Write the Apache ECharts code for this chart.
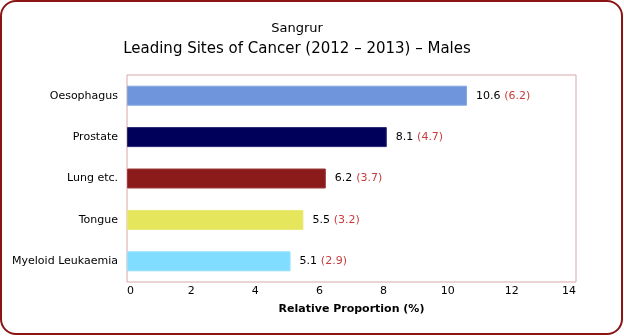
<!DOCTYPE html>
<html>
<head>
<meta charset="utf-8">
<script src="https://cdn.jsdelivr.net/npm/echarts@6/dist/echarts.min.js"></script>
<style>html,body{margin:0;padding:0;background:#fff;}#c{width:624px;height:336px;}</style>
</head>
<body>
<div id="c"></div>
<script>
const categories = ["Oesophagus", "Prostate", "Lung etc.", "Tongue", "Myeloid Leukaemia"];
const proportions = [10.6, 8.1, 6.2, 5.5, 5.1];
const rates = [6.2, 4.7, 3.7, 3.2, 2.9];
const barColors = ["#6f96dc", "#00005a", "#8b1a1a", "#e6e65c", "#80ddff"];
const xTicks = [0, 2, 4, 6, 8, 10, 12, 14];

const chart = echarts.init(document.getElementById('c'), null, {renderer: 'canvas'});
const FONT = 'DejaVu Sans';
chart.setOption({
  animation: false,
  backgroundColor: '#fff',
  textStyle: {fontFamily: FONT},
  graphic: [{
    type: 'rect', shape: {x: 1, y: 1, width: 621, height: 333, r: 15},
    style: {fill: 'none', stroke: '#8b1414', lineWidth: 2}, silent: true
  }, {
    type: 'text', x: 297, y: 29,
    style: {text: 'Sangrur', font: '13px "DejaVu Sans"', fill: '#000', align: 'center', verticalAlign: 'middle'}
  }, {
    type: 'text', x: 297, y: 49,
    style: {text: 'Leading Sites of Cancer (2012 – 2013) – Males', font: '15px "DejaVu Sans"', fill: '#000', align: 'center', verticalAlign: 'middle'}
  }],
  grid: {left: 127, right: 48, top: 75, bottom: 54, show: true, borderColor: '#d8a8a8', borderWidth: 1},
  xAxis: {
    type: 'value', min: xTicks[0], max: xTicks[xTicks.length - 1], interval: 2,
    name: 'Relative Proportion (%)', nameLocation: 'middle', nameGap: 22,
    nameTextStyle: {fontFamily: FONT, fontSize: 11, fontWeight: 'bold', color: '#000'},
    axisLine: {show: false}, axisTick: {show: false}, splitLine: {show: false},
    axisLabel: {fontFamily: FONT, fontSize: 11, color: '#000', margin: 4, alignMinLabel: 'left', alignMaxLabel: 'right'}
  },
  yAxis: {
    type: 'category', data: categories, inverse: true,
    axisLine: {show: false}, axisTick: {show: false},
    axisLabel: {fontFamily: FONT, fontSize: 11, color: '#000', margin: 9}
  },
  series: [{
    type: 'bar', barWidth: 20,
    data: proportions.map((v, i) => ({
      value: v,
      itemStyle: {color: barColors[i], borderColor: echarts.color.lift(barColors[i], 0.15), borderWidth: 1},
      label: {formatter: '{a|' + v.toFixed(1) + '} {b|(' + rates[i].toFixed(1) + ')}'}
    })),
    label: {
      show: true, position: 'right', distance: 9,
      rich: {
        a: {fontFamily: FONT, fontSize: 11, color: '#000'},
        b: {fontFamily: FONT, fontSize: 11, color: '#c83c3c'}
      }
    }
  }]
});
</script>
</body>
</html>
